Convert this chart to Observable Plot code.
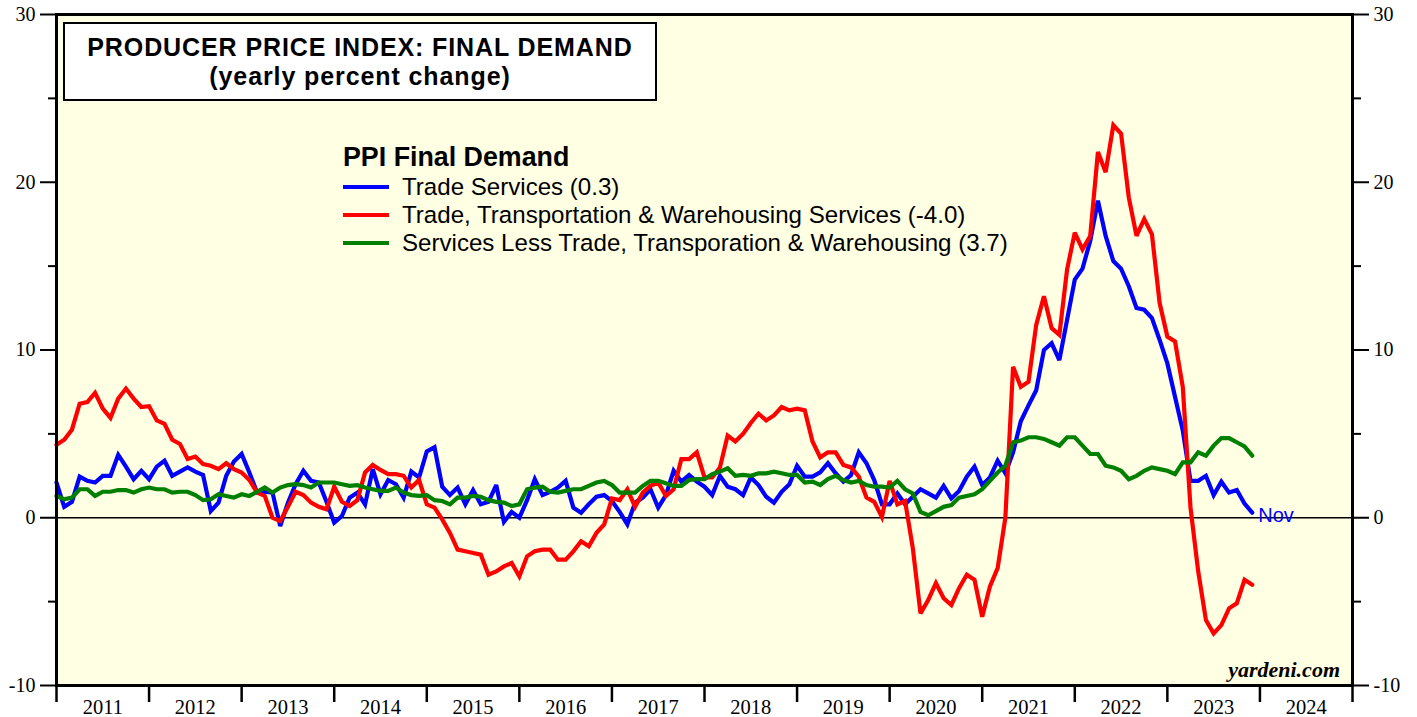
<!DOCTYPE html>
<html><head><meta charset="utf-8">
<script src="https://cdn.jsdelivr.net/npm/d3@7"></script>
<script src="https://cdn.jsdelivr.net/npm/@observablehq/plot@0.6"></script>
<style>
body{margin:0;background:#fff;}
#wrap{position:relative;width:1417px;height:717px;overflow:hidden;}
.abs{position:absolute;white-space:nowrap;line-height:1;}
.sans{font-family:"Liberation Sans",Arial,sans-serif;color:#000;}
</style></head><body><div id="wrap"></div>
<script>
// ---- data (monthly, first value = Dec 2010, last = Nov 2023) ----
const firstYear = 2010, firstMonth = 12;
const years = [2011,2012,2013,2014,2015,2016,2017,2018,2019,2020,2021,2022,2023,2024];
const yTicksMajor = [-10,0,10,20,30];
const yTicksMinor = [-5,5,15,25];
const seriesNames = ["Trade Services","Trade, Transportation & Warehousing Services","Services Less Trade, Transporation & Warehousing"];
const seriesLatest = ["0.3","-4.0","3.7"];
const seriesColors = ["#0000ff","#ff0000","#007f00"];
const lastMonthLabel = "Nov";

const tradeServices = [
 2.1,0.65,0.95,2.45,2.2,2.1,2.5,2.5,3.75,3.05,2.3,2.8,
 2.3,3.05,3.4,2.5,2.75,3.0,2.75,2.55,0.4,0.9,2.5,3.35,
 3.8,2.7,1.5,1.55,1.5,-0.5,0.9,2.0,2.8,2.2,2.1,0.95,
 -0.3,0.1,1.2,1.5,0.8,2.9,1.4,2.25,2.0,1.2,2.75,2.4,
 3.95,4.2,1.85,1.35,1.8,0.8,1.65,0.8,0.95,1.95,-0.25,0.35,
 0.0,1.05,2.3,1.35,1.55,1.8,2.2,0.6,0.3,0.8,1.25,1.35,
 1.0,0.35,-0.4,0.9,1.2,1.7,0.6,1.35,2.8,2.15,2.55,2.15,
 1.85,1.35,2.5,1.85,1.7,1.35,2.4,1.95,1.25,0.9,1.55,2.0,
 3.1,2.45,2.45,2.7,3.25,2.65,2.15,2.55,3.9,3.25,2.25,0.8,
 0.8,1.45,0.8,1.25,1.7,1.45,1.2,1.9,1.15,1.6,2.45,3.05,
 1.95,2.4,3.4,2.65,3.9,5.75,6.7,7.6,10.0,10.4,9.4,11.8,
 14.2,14.85,16.5,18.9,16.8,15.3,14.85,13.8,12.5,12.4,11.9,10.6,
 9.2,7.2,5.2,2.2,2.2,2.5,1.35,2.15,1.5,1.65,0.85,0.3
];
const tradeTransWarehousing = [
 4.35,4.65,5.25,6.8,6.9,7.45,6.5,5.95,7.1,7.7,7.1,6.6,
 6.65,5.8,5.6,4.65,4.4,3.5,3.65,3.2,3.1,2.9,3.25,2.9,
 2.7,2.25,1.5,1.3,0.0,-0.2,0.65,1.55,1.35,0.9,0.65,0.5,
 1.85,0.95,0.7,1.05,2.7,3.15,2.85,2.6,2.6,2.5,1.8,2.25,
 0.8,0.6,-0.1,-0.9,-1.9,-2.0,-2.1,-2.2,-3.4,-3.2,-2.9,-2.7,
 -3.5,-2.3,-2.0,-1.9,-1.9,-2.5,-2.5,-2.0,-1.4,-1.7,-0.9,-0.4,
 1.15,1.05,1.7,0.65,1.5,1.9,2.1,1.3,1.7,3.5,3.5,3.9,
 2.4,2.4,3.0,4.9,4.55,5.0,5.65,6.2,5.8,6.1,6.6,6.4,
 6.5,6.4,4.55,3.6,3.9,3.9,3.15,3.0,2.45,1.2,0.95,0.05,
 2.2,0.8,1.0,-1.8,-5.7,-4.9,-3.9,-4.8,-5.2,-4.2,-3.4,-3.7,
 -5.9,-4.1,-3.0,0.0,9.0,7.8,8.1,11.5,13.2,11.3,10.9,14.8,
 17.0,16.0,16.8,21.8,20.6,23.4,22.9,19.1,16.8,17.8,16.9,12.8,
 10.8,10.5,7.8,0.6,-3.2,-6.1,-6.9,-6.4,-5.4,-5.1,-3.7,-4.0
];
const servicesLessTTW = [
 1.3,1.1,1.2,1.7,1.7,1.3,1.55,1.55,1.65,1.65,1.5,1.7,
 1.8,1.7,1.7,1.5,1.55,1.55,1.35,1.05,1.1,1.4,1.3,1.2,
 1.4,1.3,1.55,1.8,1.5,1.8,1.95,2.0,1.95,1.8,2.1,2.1,
 2.1,2.0,1.9,1.95,1.8,1.7,1.6,1.6,1.8,1.5,1.35,1.3,
 1.35,1.05,1.0,0.8,1.2,1.2,1.3,1.25,1.05,0.95,0.9,0.7,
 0.8,1.7,1.8,1.85,1.55,1.5,1.6,1.7,1.7,1.9,2.1,2.2,
 1.95,1.5,1.5,1.5,1.9,2.2,2.2,2.05,1.9,1.9,2.25,2.3,
 2.3,2.6,2.75,2.95,2.5,2.55,2.5,2.65,2.65,2.75,2.65,2.55,
 2.55,2.1,2.15,1.95,2.3,2.5,2.25,2.1,2.2,1.95,1.85,1.85,
 1.8,2.2,1.7,1.45,0.35,0.15,0.4,0.65,0.75,1.2,1.3,1.4,
 1.7,2.2,2.7,3.1,4.5,4.6,4.8,4.8,4.7,4.5,4.3,4.8,
 4.8,4.3,3.8,3.8,3.1,3.0,2.8,2.3,2.5,2.8,3.0,2.9,
 2.8,2.6,3.3,3.3,3.9,3.7,4.3,4.75,4.75,4.5,4.25,3.7
];

// ---- build table: each value is placed at the end of its month ----
const allSeries = [tradeServices, tradeTransWarehousing, servicesLessTTW];
const rows = [];
allSeries.forEach((vals, k) => {
  vals.forEach((v, i) => {
    rows.push({x: firstYear + firstMonth / 12 + i / 12, y: v, s: seriesNames[k]});
  });
});
const lastBlue = rows.filter(r => r.s === seriesNames[0]).slice(-1);

const axisFont = "Liberation Serif, Times New Roman, serif";
const chart = Plot.plot({
  width: 1417, height: 717,
  marginLeft: 56, marginRight: 65, marginTop: 14, marginBottom: 32,
  x: {domain: [2011, 2025], label: null},
  y: {domain: [-10, 30], label: null},
  color: {domain: seriesNames, range: seriesColors},
  style: {fontFamily: axisFont, background: "transparent", color: "#000"},
  marks: [
    Plot.frame({fill: "#ffffe3", stroke: null}),
    Plot.ruleY([0], {stroke: "#000", strokeWidth: 1.3}),
    Plot.line(rows, {x: "x", y: "y", z: "s", stroke: "s", strokeWidth: 4.2, strokeLinejoin: "miter", strokeMiterlimit: 3}),
    Plot.text(lastBlue, {x: "x", y: "y", text: () => lastMonthLabel, dx: 6, dy: 3, textAnchor: "start",
      fill: seriesColors[0], fontSize: 20, fontFamily: "Liberation Sans, Arial, sans-serif"}),
    Plot.axisY({anchor: "left", ticks: yTicksMajor, tickSize: 16, tickPadding: 5, tickFormat: d => String(d), fontSize: 20, strokeWidth: 2}),
    Plot.axisY({anchor: "left", ticks: yTicksMinor, tickSize: 8, tickFormat: () => "", strokeWidth: 2}),
    Plot.axisY({anchor: "right", ticks: yTicksMajor, tickSize: 16, tickPadding: 5, tickFormat: d => String(d), fontSize: 20, strokeWidth: 2}),
    Plot.axisY({anchor: "right", ticks: yTicksMinor, tickSize: 8, tickFormat: () => "", strokeWidth: 2}),
    Plot.axisX({ticks: [...years, years[years.length - 1] + 1], tickSize: 17, tickFormat: () => "", strokeWidth: 2.5}),
    Plot.axisX({ticks: years.map(y => y + 0.5), tickSize: 0, tickPadding: 14, tickFormat: d => String(Math.floor(d)), fontSize: 20.5}),
    Plot.frame({stroke: "#000", strokeWidth: 3})
  ]
});
const wrap = document.getElementById("wrap");
wrap.appendChild(chart);

// ---- overlays: title box, legend, source ----
function addDiv(html, css, cls) {
  const d = document.createElement("div");
  d.className = "abs " + (cls || "");
  d.innerHTML = html;
  Object.assign(d.style, css);
  wrap.appendChild(d);
  return d;
}
addDiv("", {left: "63px", top: "22px", width: "590px", height: "75px", border: "2px solid #000", background: "#fff"});
addDiv("PRODUCER PRICE INDEX: FINAL DEMAND<br>(yearly percent change)",
  {left: "63px", width: "594px", top: "33px", textAlign: "center", fontSize: "25px", letterSpacing: "0.9px",
   lineHeight: "28.5px", fontWeight: "bold"}, "sans");

addDiv("PPI Final Demand", {left: "343px", top: "144px", fontSize: "26.8px", fontWeight: "bold"}, "sans");
seriesNames.forEach((name, k) => {
  addDiv("", {left: "343px", top: (185 + 28 * k) + "px", width: "46px", height: "4px", background: seriesColors[k]});
  addDiv(name + " (" + seriesLatest[k] + ")", {left: "402px", top: (175 + 28 * k) + "px", fontSize: "24.1px"}, "sans");
});
addDiv("yardeni.com", {right: "77px", top: "659px", fontSize: "22px", fontWeight: "bold", fontStyle: "italic",
  fontFamily: "Liberation Serif, Times New Roman, serif"});
</script></body></html>
